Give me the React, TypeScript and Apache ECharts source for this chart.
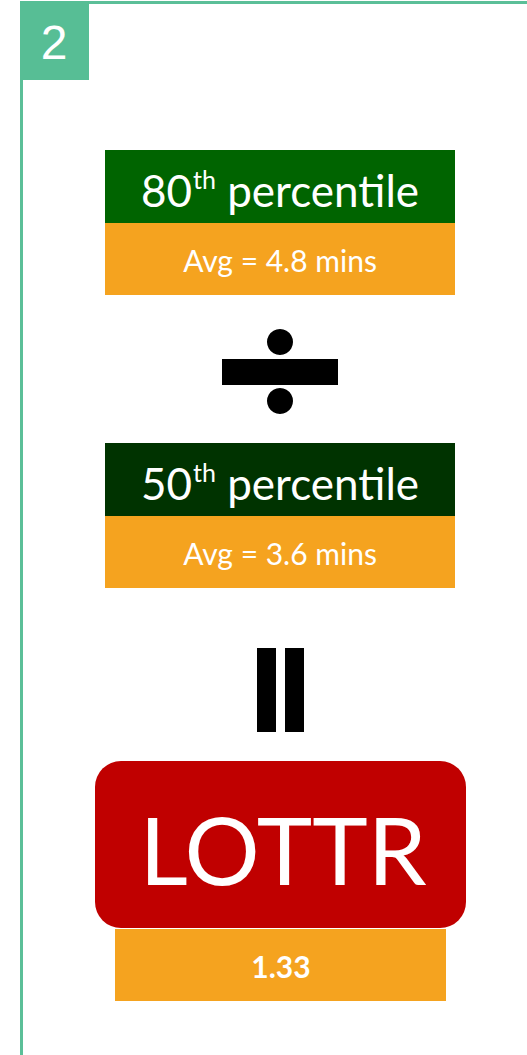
import React, { useEffect, useRef } from "react";
import * as echarts from "echarts";

const stepNumber = "2";
const percentileOrdinals = ["80", "50"];
const percentileSuffix = "th";
const percentileWord = "percentile";
const avgMinutes = [4.8, 3.6];
const resultLabel = "LOTTR";
const resultValue = "1.33";

const FONT = "Lato, 'Noto Sans', sans-serif";
const GREEN_BORDER = "#5BBF98";
const HEADER_COLORS = ["#006400", "#003300"];
const ORANGE = "#F5A31F";
const RED = "#C00000";

export default function App() {
  const ref = useRef<HTMLDivElement>(null);
  useEffect(() => {
    if (!ref.current) return;
    const chart = echarts.init(ref.current, null, { renderer: "svg" });

    const boxTops = [150, 443];
    const elements: any[] = [];

    // frame
    elements.push({
      type: "line",
      shape: { x1: 20, y1: 2.5, x2: 527, y2: 2.5 },
      style: { stroke: GREEN_BORDER, lineWidth: 3 },
    });
    elements.push({
      type: "line",
      shape: { x1: 21.5, y1: 1, x2: 21.5, y2: 1055 },
      style: { stroke: GREEN_BORDER, lineWidth: 3 },
    });
    elements.push({
      type: "rect",
      shape: { x: 20, y: 1, width: 69, height: 79 },
      style: { fill: "#57BE95" },
    });
    elements.push({
      type: "text",
      x: 54,
      y: 42,
      style: {
        text: stepNumber,
        fill: "#fff",
        font: "48px 'Liberation Sans', Arial, sans-serif",
        align: "center",
        verticalAlign: "middle",
      },
    });

    percentileOrdinals.forEach((ord, i) => {
      const top = boxTops[i];
      elements.push({
        type: "rect",
        shape: { x: 105, y: top, width: 350, height: 73 },
        style: { fill: HEADER_COLORS[i] },
      });
      elements.push({
        type: "rect",
        shape: { x: 105, y: top + 73, width: 350, height: 72 },
        style: { fill: ORANGE },
      });
      elements.push({
        type: "text",
        x: 280,
        y: top + 38,
        style: {
          text: `{n|${ord}}{s|${percentileSuffix}}{n| ${percentileWord}}`,
          align: "center",
          verticalAlign: "middle",
          rich: {
            n: { fontFamily: FONT, fontSize: 44, fill: "#fff", lineHeight: 48, verticalAlign: "bottom" },
            s: { fontFamily: FONT, fontSize: 25, fill: "#fff", lineHeight: 48, verticalAlign: "top", padding: [2, 0, 0, 1] },
          },
        },
      });
      elements.push({
        type: "text",
        x: 280,
        y: top + 110,
        style: {
          text: `Avg = ${avgMinutes[i]} mins`,
          fill: "#fff",
          fontFamily: FONT,
          fontSize: 30,
          align: "center",
          verticalAlign: "middle",
        },
      });
    });

    // divide sign
    elements.push({ type: "circle", shape: { cx: 280, cy: 342, r: 13 }, style: { fill: "#000" } });
    elements.push({ type: "rect", shape: { x: 222, y: 359, width: 116, height: 26 }, style: { fill: "#000" } });
    elements.push({ type: "circle", shape: { cx: 280, cy: 401, r: 13 }, style: { fill: "#000" } });

    // equals sign (rotated)
    elements.push({ type: "rect", shape: { x: 257, y: 648, width: 19, height: 84 }, style: { fill: "#000" } });
    elements.push({ type: "rect", shape: { x: 285, y: 648, width: 19, height: 84 }, style: { fill: "#000" } });

    // LOTTR box
    elements.push({
      type: "rect",
      shape: { x: 95, y: 761, width: 371, height: 167, r: 26 },
      style: { fill: RED },
    });
    elements.push({
      type: "text",
      x: 283,
      y: 848,
      style: {
        text: resultLabel,
        fill: "#fff",
        fontFamily: FONT,
        fontSize: 94,
        align: "center",
        verticalAlign: "middle",
      },
    });
    elements.push({
      type: "rect",
      shape: { x: 115, y: 929, width: 331, height: 72 },
      style: { fill: ORANGE },
    });
    elements.push({
      type: "text",
      x: 281,
      y: 966,
      style: {
        text: resultValue,
        fill: "#fff",
        fontFamily: FONT,
        fontWeight: "bold",
        fontSize: 30,
        align: "center",
        verticalAlign: "middle",
      },
    });

    chart.setOption({
      animation: false,
      backgroundColor: "#fff",
      graphic: { elements },
    });
    return () => chart.dispose();
  }, []);
  return (
    <div
      ref={ref}
      style={{ position: "absolute", left: 0, top: 0, width: 527, height: 1055 }}
    />
  );
}
